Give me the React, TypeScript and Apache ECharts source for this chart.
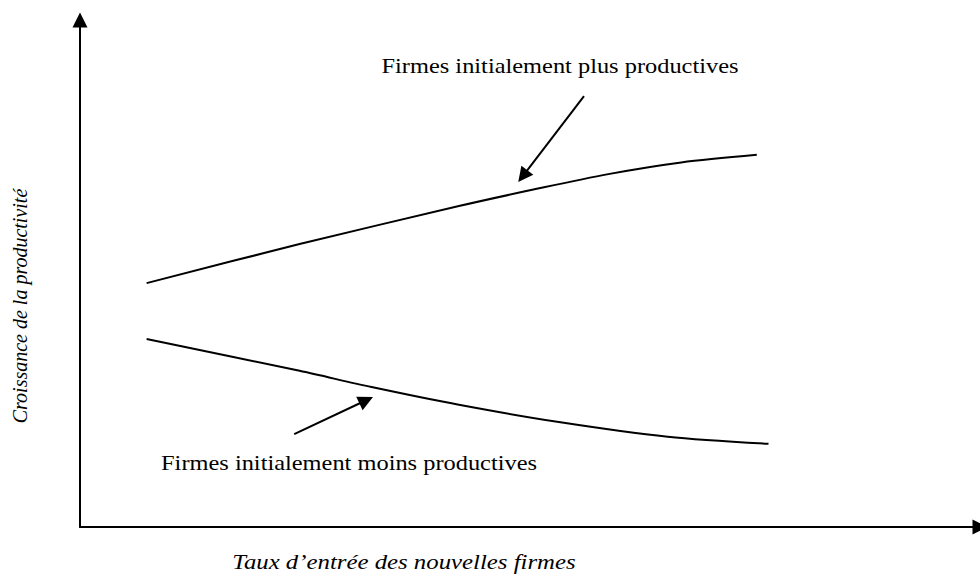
import React, { useEffect, useRef } from "react";
import * as echarts from "echarts";

// Curve values (abstract units on a 0-100 scale for both axes)
const upperX = [7.4, 24.4, 42.1, 50.5, 58.7, 66.8, 75.2];
const upperY = [48.1, 55.8, 63.3, 66.6, 69.6, 71.9, 73.4];
const lowerX = [7.4, 24.4, 32.4, 42.1, 53.2, 65.3, 76.5];
const lowerY = [37.1, 30.8, 27.6, 24.1, 20.7, 17.8, 16.4];

// Annotation arrows: [start, end]
const upperArrow = [[56.0, 85.0], [49.2, 69.2]];
const lowerArrow = [[23.8, 18.3], [31.8, 25.0]];

// Texts
const upperLabel = "Firmes initialement plus productives";
const lowerLabel = "Firmes initialement moins productives";
const xTitle = "Taux d\u2019entrée des nouvelles firmes";
const yTitle = "Croissance de la productivité";

const zip = (xs: number[], ys: number[]) => xs.map((x, i) => [x, ys[i]]);

export default function App() {
  const ref = useRef<HTMLDivElement>(null);
  useEffect(() => {
    if (!ref.current) return;
    const chart = echarts.init(ref.current, null, { renderer: "svg" });
    const black = "#000";
    const arrowML = (arr: number[][]) => ({
      silent: true,
      symbol: ["none", "triangle"],
      symbolSize: 15,
      label: { show: false },
      emphasis: { disabled: true },
      lineStyle: { color: black, width: 2, type: "solid" },
      data: [[{ coord: arr[0] }, { coord: arr[1] }]],
    });
    const serif = "Liberation Serif";
    const txt = (
      text: string,
      x: number,
      y: number,
      italic: boolean,
      scaleX: number,
      rotation = 0
    ) => ({
      type: "text",
      x,
      y,
      scaleX,
      rotation,
      style: {
        text,
        fontFamily: serif,
        fontSize: 20,
        fontStyle: italic ? "italic" : "normal",
        fill: black,
        align: "center",
        verticalAlign: "middle",
      },
    });
    chart.setOption({
      animation: false,
      backgroundColor: "#fff",
      grid: { left: 80, top: 20, width: 903, height: 507 },
      xAxis: {
        type: "value",
        min: 0,
        max: 100,
        axisLine: {
          show: true,
          symbol: ["none", "triangle"],
          symbolSize: [15, 15],
          lineStyle: { color: black, width: 2 },
        },
        axisTick: { show: false },
        axisLabel: { show: false },
        splitLine: { show: false },
      },
      yAxis: {
        type: "value",
        min: 0,
        max: 100,
        axisLine: {
          show: true,
          symbol: ["none", "triangle"],
          symbolSize: [15, 15],
          lineStyle: { color: black, width: 2 },
        },
        axisTick: { show: false },
        axisLabel: { show: false },
        splitLine: { show: false },
      },
      series: [
        {
          type: "line",
          data: zip(upperX, upperY),
          smooth: 0.3,
          showSymbol: false,
          lineStyle: { color: black, width: 2 },
          emphasis: { disabled: true },
          markLine: arrowML(upperArrow),
        },
        {
          type: "line",
          data: zip(lowerX, lowerY),
          smooth: 0.3,
          showSymbol: false,
          lineStyle: { color: black, width: 2 },
          emphasis: { disabled: true },
          markLine: arrowML(lowerArrow),
        },
      ],
      graphic: [
        txt(upperLabel, 560, 66, false, 1.22),
        txt(lowerLabel, 349, 463, false, 1.22),
        txt(xTitle, 404, 562, true, 1.24),
        txt(yTitle, 20, 306, true, 1, Math.PI / 2),
      ],
    });
    return () => chart.dispose();
  }, []);
  return (
    <div
      ref={ref}
      style={{ position: "fixed", left: 0, top: 0, width: 980, height: 574, background: "#fff" }}
    />
  );
}
